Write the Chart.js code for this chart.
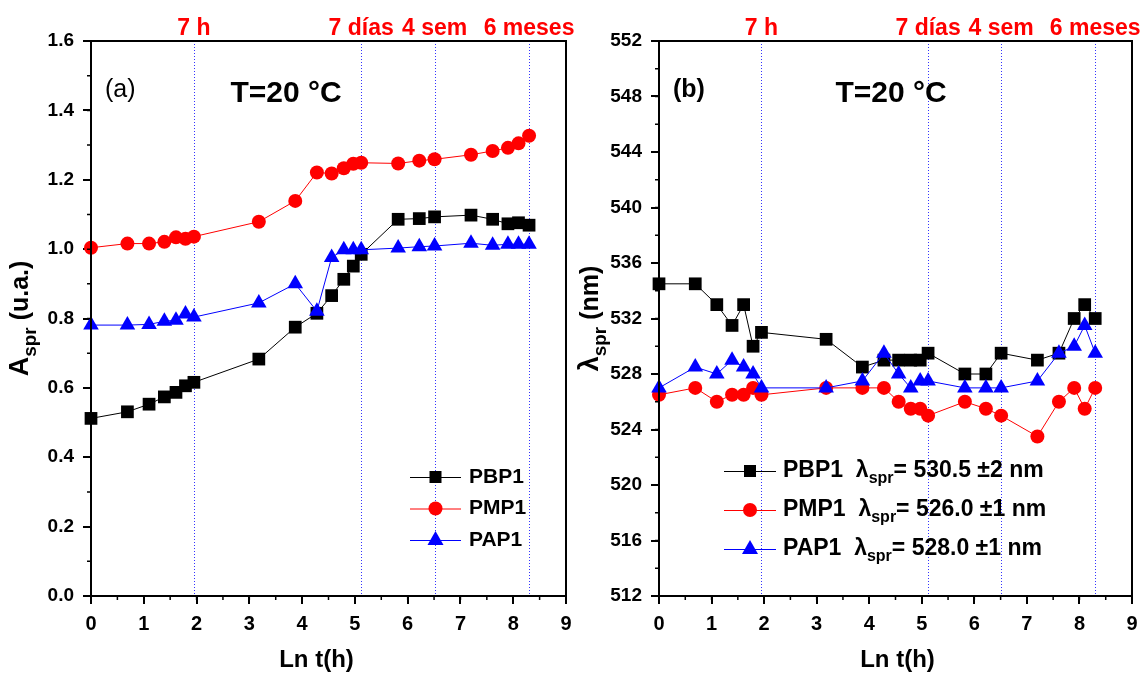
<!DOCTYPE html>
<html>
<head>
<meta charset="utf-8">
<script src="https://cdn.jsdelivr.net/npm/chart.js@4.4.1/dist/chart.umd.min.js"></script>
<style>
    body { margin: 0; background: #fff; }
    #wrap { position: relative; width: 1148px; height: 673px; }
    #grafA { position: absolute; left: 0; top: 0; }
    #grafB { position: absolute; left: 574px; top: 0; }
</style>
</head>
<body>
<div id="wrap">
    <canvas id="grafA" width="584" height="673"></canvas>
    <canvas id="grafB" width="574" height="673"></canvas>
</div>
<script>
// tiempo (ln de horas)
const lnT = [0, 0.69, 1.10, 1.39, 1.61, 1.79, 1.95, 3.18, 3.87, 4.28, 4.56, 4.79, 4.97, 5.12, 5.82, 6.22, 6.51, 7.20, 7.61, 7.90, 8.10, 8.30];

// (a) absorbancia
const aPBP1 = [0.512, 0.531, 0.553, 0.574, 0.587, 0.606, 0.616, 0.683, 0.775, 0.815, 0.866, 0.913, 0.951, 0.985, 1.086, 1.088, 1.093, 1.098, 1.086, 1.073, 1.076, 1.069];
const aPMP1 = [1.004, 1.016, 1.016, 1.021, 1.034, 1.030, 1.036, 1.079, 1.139, 1.221, 1.218, 1.233, 1.246, 1.249, 1.247, 1.255, 1.259, 1.272, 1.283, 1.292, 1.305, 1.327];
const aPAP1 = [0.781, 0.781, 0.783, 0.792, 0.795, 0.813, 0.804, 0.845, 0.900, 0.821, 0.976, 0.998, 0.998, 0.998, 1.003, 1.007, 1.009, 1.017, 1.011, 1.014, 1.014, 1.014];

// (b) longitud de onda
const lPBP1 = [534.5, 534.5, 533, 531.5, 533, 530, 531, 530.5, 528.5, 529, 529, 529, 529, 529.5, 528, 528, 529.5, 529, 529.5, 532, 533, 532];
const lPMP1 = [526.5, 527, 526, 526.5, 526.5, 527, 526.5, 527, 527, 527, 526, 525.5, 525.5, 525, 526, 525.5, 525, 523.5, 526, 527, 525.5, 527];
const lPAP1 = [527, 528.5, 528, 529, 528.5, 528, 527, 527, 527.5, 529.5, 528, 527, 527.5, 527.5, 527, 527, 527, 527.5, 529.5, 530, 531.5, 529.5];

const xTicks = [0, 1, 2, 3, 4, 5, 6, 7, 8, 9];
const aTicks = [0.0, 0.2, 0.4, 0.6, 0.8, 1.0, 1.2, 1.4, 1.6];
const lTicks = [512, 516, 520, 524, 528, 532, 536, 540, 544, 548, 552];

const marcaLnT = [1.95, 5.12, 6.51, 8.30];
const marcaTxt = ['7 h', '7 días', '4 sem', '6 meses'];

const series = ['PBP1', 'PMP1', 'PAP1'];
const lambdaTxt = ['= 530.5 ±2 nm', '= 526.0 ±1 nm', '= 528.0 ±1 nm'];

const colores = ['#000000', '#ff0000', '#0000ff'];
const formas = ['rect', 'circle', 'triangle'];
const radios = [9, 7, 9];

const FUENTE = "'Liberation Sans', Arial, sans-serif";

function puntos(ys) {
    return lnT.map((x, i) => ({ x: x, y: ys[i] }));
}

function dataset(i, ys) {
    return {
        label: series[i],
        data: puntos(ys),
        showLine: true,
        borderColor: colores[i],
        backgroundColor: colores[i],
        borderWidth: 1,
        pointStyle: formas[i],
        pointRadius: radios[i],
        pointHoverRadius: radios[i],
        pointBorderWidth: 0,
        order: 3 - i,
        clip: false
    };
}

function marcadorLeyenda(ctx, forma, color, x, y) {
    ctx.fillStyle = color;
    ctx.beginPath();
    if (forma === 'rect') {
        ctx.rect(x - 6, y - 6, 12, 12);
    } else if (forma === 'circle') {
        ctx.arc(x, y, 7, 0, Math.PI * 2);
    } else {
        ctx.moveTo(x, y - 9);
        ctx.lineTo(x + 8, y + 5);
        ctx.lineTo(x - 8, y + 5);
        ctx.closePath();
    }
    ctx.fill();
}

// dibuja texto con subindice "spr"
function textoSub(ctx, partes, x, y) {
    let cx = x;
    partes.forEach(p => {
        ctx.font = p.font;
        ctx.fillText(p.t, cx, y + (p.dy || 0));
        cx += ctx.measureText(p.t).width;
    });
    return cx;
}

function anchoSub(ctx, partes) {
    let w = 0;
    partes.forEach(p => { ctx.font = p.font; w += ctx.measureText(p.t).width; });
    return w;
}

function hacerPanel(id, cfg) {
    const ctx = document.getElementById(id).getContext('2d');

    const adornos = {
        id: 'adornos' + id,
        beforeDatasetsDraw(chart) {
            const c = chart.ctx;
            const a = chart.chartArea;
            const sx = chart.scales.x;
            c.save();
            c.strokeStyle = '#3333ff';
            c.lineWidth = 1;
            c.setLineDash([1, 2]);
            marcaLnT.forEach(v => {
                const px = Math.round(sx.getPixelForValue(v)) + 0.5;
                c.beginPath();
                c.moveTo(px, a.top);
                c.lineTo(px, a.bottom);
                c.stroke();
            });
            c.restore();
        },
        afterDraw(chart) {
            const c = chart.ctx;
            const a = chart.chartArea;
            const sx = chart.scales.x;
            const sy = chart.scales.y;
            c.save();

            // marco
            c.strokeStyle = '#000';
            c.lineWidth = 2;
            c.strokeRect(a.left, a.top, a.right - a.left, a.bottom - a.top);

            // ticks menores
            c.lineWidth = 1.5;
            c.beginPath();
            for (let v = 0; v <= 9.0001; v += 0.5) {
                const px = sx.getPixelForValue(v);
                c.moveTo(px, a.bottom);
                c.lineTo(px, a.bottom + 4);
            }
            for (let v = sy.min; v <= sy.max + 1e-6; v += cfg.menor) {
                const py = sy.getPixelForValue(v);
                c.moveTo(a.left, py);
                c.lineTo(a.left - 4, py);
            }
            c.stroke();

            // etiquetas de tiempo arriba
            c.fillStyle = '#ff0000';
            c.font = 'bold 23px ' + FUENTE;
            c.textBaseline = 'alphabetic';
            marcaLnT.forEach((v, i) => {
                const w = c.measureText(marcaTxt[i]).width;
                let px = sx.getPixelForValue(v) - w / 2;
                if (px + w > chart.width - 1) px = chart.width - 1 - w;
                c.fillText(marcaTxt[i], px, 35);
            });

            // etiqueta del panel y temperatura
            c.fillStyle = '#000';
            c.font = cfg.letraFont;
            c.fillText(cfg.letra, a.left + 14, 97);
            c.font = 'bold 30px ' + FUENTE;
            c.textAlign = 'center';
            c.fillText('T=20 °C', a.left + cfg.tempX, 102);
            c.textAlign = 'left';

            // titulo eje x
            c.font = 'bold 24px ' + FUENTE;
            c.textAlign = 'center';
            c.fillText('Ln t(h)', (a.left + a.right) / 2 + cfg.tituloXdx, 667);
            c.textAlign = 'left';

            // titulo eje y con subindice
            const partes = cfg.tituloY;
            const w = anchoSub(c, partes);
            c.translate(cfg.tituloYX, (a.top + a.bottom) / 2);
            c.rotate(-Math.PI / 2);
            textoSub(c, partes, -w / 2, 0);
            c.setTransform(1, 0, 0, 1, 0, 0);

            // leyenda propia
            const L = cfg.leyenda;
            series.forEach((s, i) => {
                const y = L.y0 + i * L.dy;
                c.strokeStyle = colores[i];
                c.lineWidth = 1;
                c.beginPath();
                c.moveTo(L.x0, y + 0.5);
                c.lineTo(L.x1, y + 0.5);
                c.stroke();
                marcadorLeyenda(c, formas[i], colores[i], (L.x0 + L.x1) / 2, y);
                c.fillStyle = '#000';
                c.textBaseline = 'middle';
                if (cfg.conLambda) {
                    textoSub(c, [
                        { t: s + '  λ', font: 'bold 23px ' + FUENTE },
                        { t: 'spr', font: 'bold 16px ' + FUENTE, dy: 8 },
                        { t: lambdaTxt[i], font: 'bold 23px ' + FUENTE }
                    ], L.tx, y);
                } else {
                    c.font = 'bold 21px ' + FUENTE;
                    c.fillText(s, L.tx, y);
                }
                c.textBaseline = 'alphabetic';
            });
            c.restore();
        }
    };

    return new Chart(ctx, {
        type: 'scatter',
        data: {
            datasets: [
                dataset(0, cfg.ys[0]),
                dataset(1, cfg.ys[1]),
                dataset(2, cfg.ys[2])
            ]
        },
        options: {
            responsive: false,
            animation: false,
            events: [],
            layout: { padding: { left: 0, right: cfg.padDer, top: 41, bottom: 0 } },
            plugins: {
                legend: { display: false },
                tooltip: { enabled: false }
            },
            scales: {
                x: {
                    type: 'linear',
                    min: 0,
                    max: 9,
                    afterBuildTicks: s => { s.ticks = xTicks.map(v => ({ value: v })); },
                    afterFit: s => { s.height = 77; },
                    border: { display: false },
                    grid: { display: true, drawOnChartArea: false, drawTicks: true, tickLength: 8, color: '#000', lineWidth: 2 },
                    ticks: {
                        color: '#000',
                        padding: 8,
                        font: { family: FUENTE, size: 20, weight: 'bold' },
                        callback: v => v
                    }
                },
                y: {
                    type: 'linear',
                    min: cfg.yMin,
                    max: cfg.yMax,
                    afterBuildTicks: s => { s.ticks = cfg.yTicks.map(v => ({ value: v })); },
                    afterFit: s => { s.width = cfg.anchoY; },
                    border: { display: false },
                    grid: { display: true, drawOnChartArea: false, drawTicks: true, tickLength: 8, color: '#000', lineWidth: 2 },
                    ticks: {
                        color: '#000',
                        padding: 9,
                        font: { family: FUENTE, size: 19, weight: 'bold' },
                        callback: cfg.fmtY
                    }
                }
            }
        },
        plugins: [adornos]
    });
}

hacerPanel('grafA', {
    ys: [aPBP1, aPMP1, aPAP1],
    yMin: 0, yMax: 1.6, yTicks: aTicks, menor: 0.1,
    fmtY: v => Number(v).toFixed(1),
    anchoY: 91, padDer: 18,
    letra: '(a)', letraFont: '25px ' + FUENTE, tempX: 195,
    tituloXdx: -12,
    tituloYX: 28,
    tituloY: [
        { t: 'A', font: 'bold 27px ' + FUENTE },
        { t: 'spr', font: 'bold 19px ' + FUENTE, dy: 8 },
        { t: ' (u.a.)', font: 'bold 25px ' + FUENTE }
    ],
    leyenda: { x0: 410, x1: 461, tx: 469, y0: 477, dy: 31.5 },
    conLambda: false
});

hacerPanel('grafB', {
    ys: [lPBP1, lPMP1, lPAP1],
    yMin: 512, yMax: 552, yTicks: lTicks, menor: 2,
    fmtY: v => String(v),
    anchoY: 85, padDer: 16,
    letra: '(b)', letraFont: 'bold 25px ' + FUENTE, tempX: 232,
    tituloXdx: 2,
    tituloYX: 24,
    tituloY: [
        { t: 'λ', font: 'bold 27px ' + FUENTE },
        { t: 'spr', font: 'bold 19px ' + FUENTE, dy: 8 },
        { t: ' (nm)', font: 'bold 25px ' + FUENTE }
    ],
    leyenda: { x0: 150, x1: 202, tx: 209, y0: 471, dy: 39 },
    conLambda: true
});
</script>
</body>
</html>
